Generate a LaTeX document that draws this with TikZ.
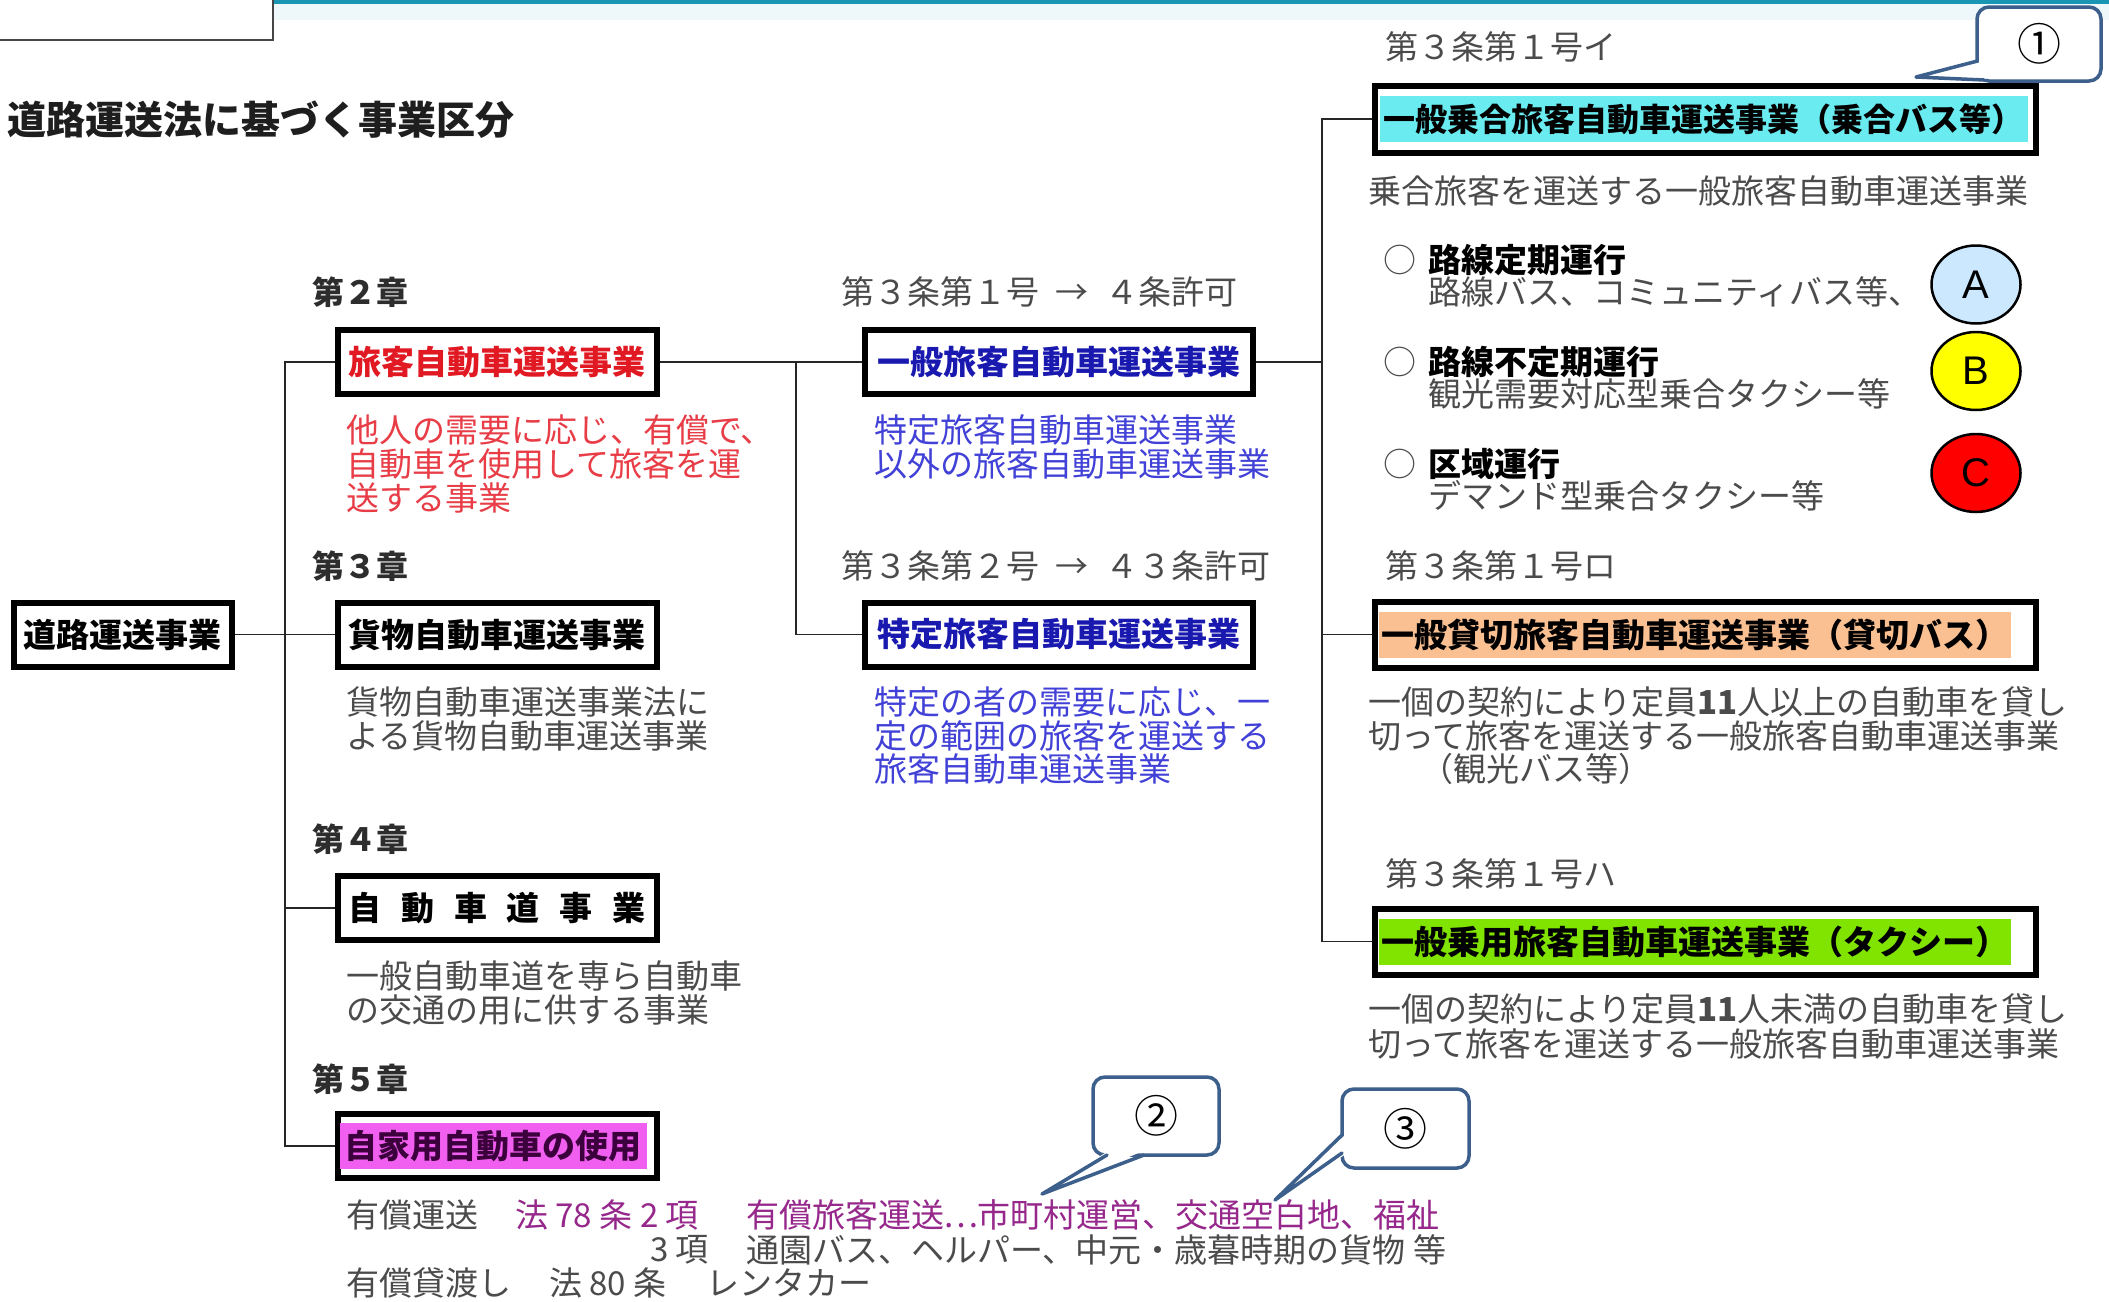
\documentclass[tikz,border=0pt]{standalone}
\usepackage{fontspec}
\setmainfont{Liberation Sans}
\newfontfamily\jp{Noto Sans CJK JP}
\usetikzlibrary{shapes.geometric}
\definecolor{tealline}{RGB}{25,150,180}
\definecolor{tealfade}{RGB}{238,248,251}
\definecolor{boxgray}{RGB}{70,70,70}
\definecolor{titlecol}{RGB}{30,30,30}
\definecolor{labgray}{RGB}{45,45,45}
\definecolor{descgray}{RGB}{75,75,75}
\definecolor{redbox}{RGB}{225,25,35}
\definecolor{reddesc}{RGB}{232,60,70}
\definecolor{bluebox}{RGB}{25,25,175}
\definecolor{bluedesc}{RGB}{65,65,215}
\definecolor{cyanhl}{RGB}{105,235,240}
\definecolor{orangehl}{RGB}{250,192,145}
\definecolor{greenhl}{RGB}{128,228,0}
\definecolor{magentahl}{RGB}{240,95,240}
\definecolor{jikatext}{RGB}{60,0,60}
\definecolor{purpletx}{RGB}{150,40,140}
\definecolor{callblue}{RGB}{60,95,140}
\definecolor{fillA}{RGB}{204,232,255}
\definecolor{fillB}{RGB}{255,255,0}
\definecolor{fillC}{RGB}{255,0,0}
\begin{document}
\begin{tikzpicture}[x=1pt,y=-1pt,
  conn/.style={line width=1.8pt, draw=black!85},
  bx/.style={draw=black, line width=6pt, inner sep=0pt, minimum height=64pt, fill=white},
  bt/.style={font=\jp\bfseries\fontsize{33}{36}\selectfont},
  lbl/.style={inner sep=0pt, anchor=west, text=labgray, font=\jp\bfseries\fontsize{32}{36}\selectfont},
  art/.style={inner sep=0pt, anchor=west, text=descgray, font=\jp\fontsize{33}{36}\selectfont},
  desc/.style={inner sep=0pt, anchor=west, font=\jp\fontsize{33}{36}\selectfont},
  hl/.style={inner xsep=0pt, inner ysep=0pt, minimum height=46pt, anchor=west, font=\jp\bfseries\fontsize{33}{36}\selectfont},
  abc/.style={ellipse, draw=black, line width=2.5pt, minimum width=89pt, minimum height=78pt, inner sep=0pt, font=\fontsize{40}{44}\selectfont},
  cbox/.style={draw=callblue, line width=3.5pt, rounded corners=12pt, fill=white, inner sep=0pt, font=\jp\fontsize{44}{48}\selectfont},
  tail/.style={draw=callblue, line width=3.5pt, line join=round, line cap=round}
]
\useasboundingbox (0,0) rectangle (2109,1301);
\fill[white] (0,0) rectangle (2109,1301);
% header decorations
\fill[tealfade] (273,4) rectangle (2109,20);
\draw[tealline, line width=4pt] (273,2) -- (2109,2);
\draw[boxgray, line width=2pt] (-5,-5) rectangle (273,40);

% title
\node[inner sep=0pt, anchor=west, text=titlecol, font=\jp\bfseries\fontsize{39}{42}\selectfont] (title) at (7,120) {道路運送法に基づく事業区分};

% ---------- boxes ----------
\node[bx, bt, minimum width=218pt] (road) at (122.5,634.5) {道路運送事業};

\node[bx, bt, minimum width=319pt, text=redbox] (ryokaku) at (497,362) {旅客自動車運送事業};
\node[bx, bt, minimum width=319pt] (kamotsu) at (497,634.5) {貨物自動車運送事業};
\node[bx, bt, minimum width=319pt] (dou) at (497,908) {自\hspace{20pt}動\hspace{20pt}車\hspace{20pt}道\hspace{20pt}事\hspace{20pt}業};
\node[bx, minimum width=319pt] (jika) at (497,1146) {};
\node[hl, fill=magentahl, text=jikatext, minimum width=307pt] (jikatxt) at ([xshift=5pt]jika.west) {自家用自動車の使用};

\node[bx, bt, minimum width=388pt, text=bluebox] (ippan) at (1058.5,362) {一般旅客自動車運送事業};
\node[bx, bt, minimum width=388pt, text=bluebox] (tokutei) at (1058.5,634.5) {特定旅客自動車運送事業};

\node[bx, minimum width=661pt, minimum height=67pt] (noriai) at (1705,119) {};
\node[hl, fill=cyanhl, minimum width=648pt, font=\jp\bfseries\fontsize{32}{36}\selectfont] (noriaitxt) at ([xshift=8pt]noriai.west) {一般乗合旅客自動車運送事業（乗合バス等）};
\node[bx, minimum width=661pt, minimum height=66pt] (kashi) at (1705,634.5) {};
\node[hl, fill=orangehl, minimum width=632pt] (kashitxt) at ([xshift=7pt]kashi.west) {一般貸切旅客自動車運送事業（貸切バス）};
\node[bx, minimum width=661pt, minimum height=66pt] (joyo) at (1705,941.5) {};
\node[hl, fill=greenhl, minimum width=632pt] (joyotxt) at ([xshift=7pt]joyo.west) {一般乗用旅客自動車運送事業（タクシー）};

% ---------- connectors ----------
\coordinate (tTop) at (285,362);
\coordinate (tBot) at (285,1146);
\draw[conn] (ryokaku.west) -- (tTop) -- (tBot) -- (jika.west);
\draw[conn] (road.east) -- (kamotsu.west);
\draw[conn] (dou.west) -- (dou.west -| tTop);
\coordinate (mid) at (796,362);
\draw[conn] (ryokaku.east) -- (ippan.west);
\draw[conn] (mid) |- (tokutei.west);
\coordinate (rBot) at (1322,941.5);
\draw[conn] (noriai.west) -| (rBot) -- (joyo.west);
\draw[conn] (ippan.east) -- (ippan.east -| rBot);
\draw[conn] (kashi.west) -- (kashi.west -| rBot);

% ---------- chapter labels ----------
\node[lbl] (ch2) at (312,292) {第２章};
\node[lbl] (ch3) at (312,566) {第３章};
\node[lbl] (ch4) at (312,839) {第４章};
\node[lbl] (ch5) at (312,1079) {第５章};

% ---------- article labels ----------
\node[art] (a31) at (841,292) {第３条第１号\hspace{0.5em}→\hspace{0.5em}４条許可};
\node[art] (a32) at (841,566) {第３条第２号\hspace{0.5em}→\hspace{0.5em}４３条許可};
\node[art] (a1i) at (1385,47) {第３条第１号イ};
\node[art] (a1ro) at (1385,566) {第３条第１号ロ};
\node[art] (a1ha) at (1385,874) {第３条第１号ハ};

% ---------- descriptions: left ----------
\node[desc, text=reddesc] (rd1) at (346,430) {他人の需要に応じ、有償で、};
\node[desc, text=reddesc] (rd2) at (346,464) {自動車を使用して旅客を運};
\node[desc, text=reddesc] (rd3) at (346,498) {送する事業};
\node[desc, text=descgray] (kd1) at (346,702) {貨物自動車運送事業法に};
\node[desc, text=descgray] (kd2) at (346,736) {よる貨物自動車運送事業};
\node[desc, text=descgray] (dd1) at (346,976) {一般自動車道を専ら自動車};
\node[desc, text=descgray] (dd2) at (346,1010) {の交通の用に供する事業};

% ---------- descriptions: middle ----------
\node[desc, text=bluedesc] (bd1) at (874,430) {特定旅客自動車運送事業};
\node[desc, text=bluedesc] (bd2) at (874,464) {以外の旅客自動車運送事業};
\node[desc, text=bluedesc] (td1) at (874,702) {特定の者の需要に応じ、一};
\node[desc, text=bluedesc] (td2) at (874,736) {定の範囲の旅客を運送する};
\node[desc, text=bluedesc] (td3) at (874,769) {旅客自動車運送事業};

% ---------- descriptions: right ----------
\node[desc, text=descgray] (nd1) at (1368,191) {乗合旅客を運送する一般旅客自動車運送事業};
\node[desc, text=descgray] (bul1) at (1383,260) {○};
\node[desc, text=black, font=\jp\bfseries\fontsize{33}{36}\selectfont] (o1) at (1428,260) {路線定期運行};
\node[desc, text=descgray] (o1s) at (1428,292) {路線バス、コミュニティバス等、};
\node[desc, text=descgray] (bul2) at (1383,362) {○};
\node[desc, text=black, font=\jp\bfseries\fontsize{33}{36}\selectfont] (o2) at (1428,362) {路線不定期運行};
\node[desc, text=descgray] (o2s) at (1428,394) {観光需要対応型乗合タクシー等};
\node[desc, text=descgray] (bul3) at (1383,464) {○};
\node[desc, text=black, font=\jp\bfseries\fontsize{33}{36}\selectfont] (o3) at (1428,464) {区域運行};
\node[desc, text=descgray] (o3s) at (1428,496) {デマンド型乗合タクシー等};

\node[desc, text=descgray] (kd3) at (1368,702) {一個の契約により定員{\bfseries 11}人以上の自動車を貸し};
\node[desc, text=descgray] (kd4) at (1368,736) {切って旅客を運送する一般旅客自動車運送事業};
\node[desc, text=descgray] (kd5) at (1420,769) {（観光バス等）};
\node[desc, text=descgray] (jd1) at (1368,1009) {一個の契約により定員{\bfseries 11}人未満の自動車を貸し};
\node[desc, text=descgray] (jd2) at (1368,1044) {切って旅客を運送する一般旅客自動車運送事業};

% ---------- circles ----------
\node[abc, fill=fillA] (cA) at (1976,284.5) {A};
\node[abc, fill=fillB] (cB) at (1976,371) {B};
\node[abc, fill=fillC] (cC) at (1976,473) {C};

% ---------- bottom text ----------
\node[desc, text=descgray] (b1a) at (346,1215) {有償運送};
\node[desc, text=purpletx] (b1b) at (515,1215) {法 78 条 2 項};
\node[desc, text=purpletx] (b1c) at (746,1215) {有償旅客運送\makebox[1em]{…}市町村運営、交通空白地、福祉};
\node[desc, text=descgray] (b2a) at (650,1250) {3 項};
\node[desc, text=descgray] (b2b) at (746,1250) {通園バス、ヘルパー、中元・歳暮時期の貨物 等};
\node[desc, text=descgray] (b3a) at (346,1283) {有償貸渡し};
\node[desc, text=descgray] (b3b) at (549,1283) {法 80 条};
\node[desc, text=descgray] (b3c) at (706,1283) {レンタカー};

% ---------- callouts ----------
\node[cbox, minimum width=124pt, minimum height=74pt] (c1) at (2039,44) {①};
\coordinate (c1tip) at (1916,77);
\fill[white] (1981,62) -- (c1tip) -- (1986,79) -- cycle;
\draw[tail] (1977.5,61) -- (c1tip) -- (1984,80);

\node[cbox, minimum width=126pt, minimum height=78pt] (c2) at (1156,1116) {②};
\coordinate (c2tip) at (1042,1194);
\fill[white] (1108,1151) -- (c2tip) -- (1143,1151) -- cycle;
\draw[tail] (1107,1155) -- (c2tip) -- (1144,1155);

\node[cbox, minimum width=127pt, minimum height=79pt] (c3) at (1405.5,1128.5) {③};
\coordinate (c3tip) at (1275,1200);
\fill[white] (1346,1134) -- (c3tip) -- (1346,1154) -- cycle;
\draw[tail] (1342,1135) -- (c3tip) -- (1342,1153);
\end{tikzpicture}
\end{document}
